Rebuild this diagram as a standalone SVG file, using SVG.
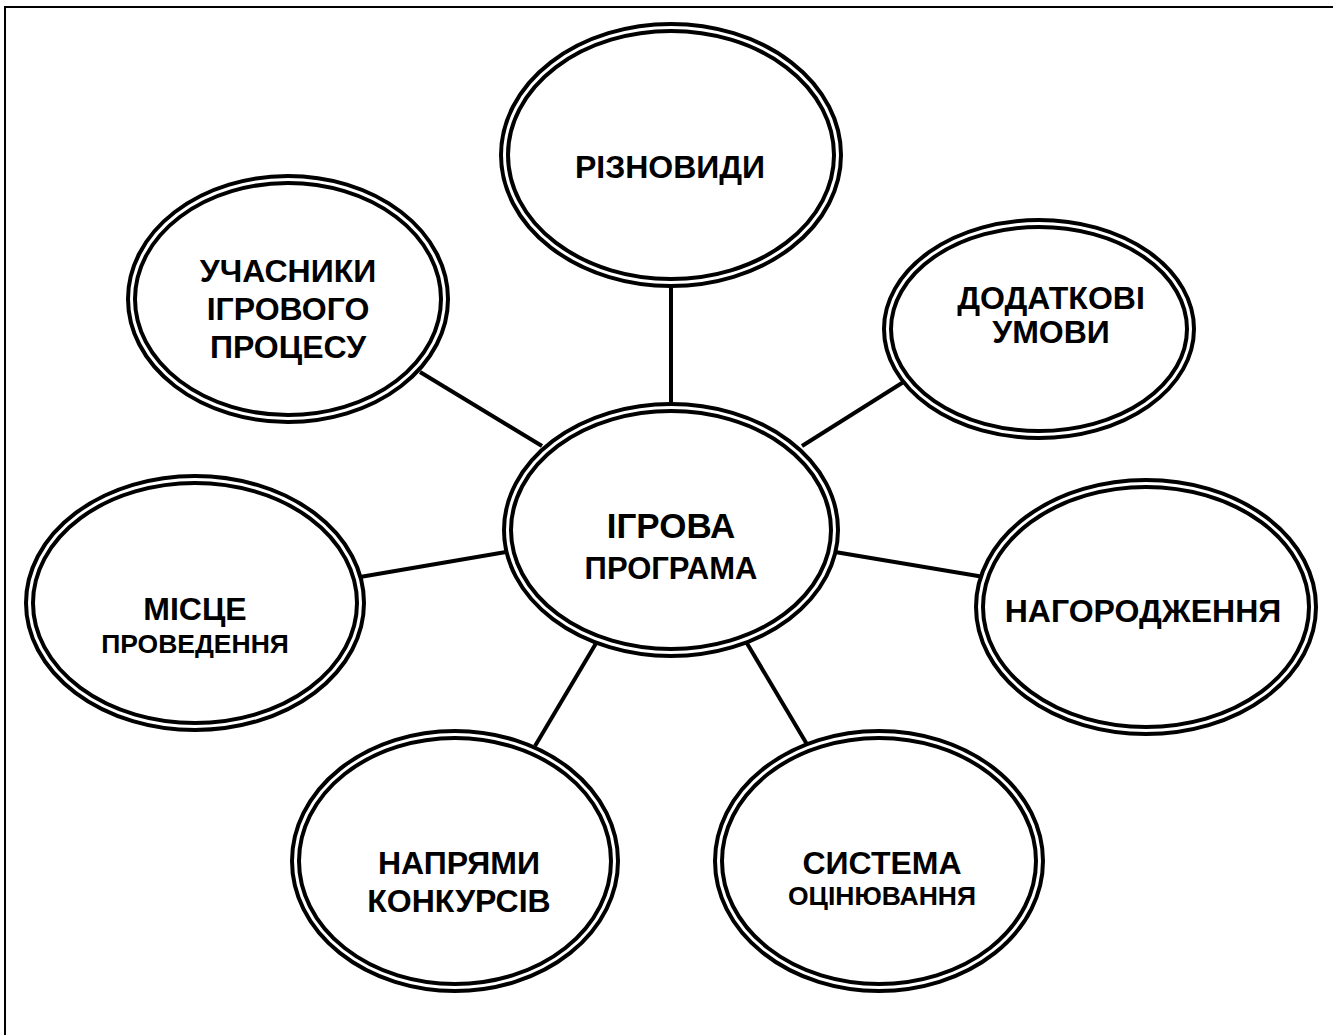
<svg xmlns="http://www.w3.org/2000/svg" width="1333" height="1035" viewBox="0 0 1333 1035">
<style>
.o{fill:#fff;stroke:#000;stroke-width:4}
.i{fill:none;stroke:#000;stroke-width:4}
.c{stroke:#000;stroke-width:4;fill:none}
text{font-family:"Liberation Sans",Arial,sans-serif;font-weight:bold;text-anchor:middle;fill:#000}
.l{font-size:32px}
.s{font-size:26.5px}
</style>
<rect width="1333" height="1035" fill="#fff"/>
<path d="M5,1035 V7 H1333" fill="none" stroke="#000" stroke-width="2"/>
<g id="connectors">
<line class="c" x1="671" y1="285" x2="671" y2="402"/>
<line class="c" x1="420" y1="372" x2="542" y2="446"/>
<line class="c" x1="921" y1="371" x2="802" y2="446"/>
<line class="c" x1="360" y1="577" x2="506" y2="552"/>
<line class="c" x1="835" y1="552" x2="984" y2="577"/>
<line class="c" x1="535" y1="746" x2="598" y2="640"/>
<line class="c" x1="745" y1="640" x2="808" y2="746"/>
</g>
<g id="center">
<ellipse class="o" cx="671" cy="530" rx="167" ry="126"/>
<ellipse class="i" cx="671" cy="530" rx="160" ry="119"/>
<text x="671" y="538" style="font-size:35px">ІГРОВА</text>
<text x="671" y="579" style="font-size:31px">ПРОГРАМА</text>
</g>
<g id="riznovydy">
<ellipse class="o" cx="671" cy="155" rx="170" ry="131"/>
<ellipse class="i" cx="671" cy="155" rx="163" ry="124"/>
<text class="l" x="670" y="178">РІЗНОВИДИ</text>
</g>
<g id="uchasnyky">
<ellipse class="o" cx="288" cy="299" rx="160" ry="123"/>
<ellipse class="i" cx="288" cy="299" rx="153" ry="116"/>
<text class="l" x="288" y="282">УЧАСНИКИ</text>
<text class="l" x="288" y="320">ІГРОВОГО</text>
<text class="l" x="288" y="358">ПРОЦЕСУ</text>
</g>
<g id="dodatkovi">
<ellipse class="o" cx="1039" cy="329" rx="155" ry="109"/>
<ellipse class="i" cx="1039" cy="329" rx="148" ry="102"/>
<text class="l" x="1051" y="309">ДОДАТКОВІ</text>
<text class="l" x="1051" y="343">УМОВИ</text>
</g>
<g id="nagorodzhennia">
<ellipse class="o" cx="1146" cy="607" rx="170" ry="127"/>
<ellipse class="i" cx="1146" cy="607" rx="163" ry="120"/>
<text class="l" x="1143" y="622">НАГОРОДЖЕННЯ</text>
</g>
<g id="mistse">
<ellipse class="o" cx="195" cy="603" rx="169" ry="127"/>
<ellipse class="i" cx="195" cy="603" rx="162" ry="120"/>
<text class="l" x="195" y="620">МІСЦЕ</text>
<text class="s" x="195" y="653">ПРОВЕДЕННЯ</text>
</g>
<g id="napriamy">
<ellipse class="o" cx="455" cy="861" rx="163" ry="130"/>
<ellipse class="i" cx="455" cy="861" rx="156" ry="123"/>
<text class="l" x="459" y="874">НАПРЯМИ</text>
<text class="l" x="459" y="912">КОНКУРСІВ</text>
</g>
<g id="systema">
<ellipse class="o" cx="879" cy="861" rx="164" ry="130"/>
<ellipse class="i" cx="879" cy="861" rx="157" ry="123"/>
<text class="l" x="882" y="874">СИСТЕМА</text>
<text class="s" x="882" y="905">ОЦІНЮВАННЯ</text>
</g>
</svg>
